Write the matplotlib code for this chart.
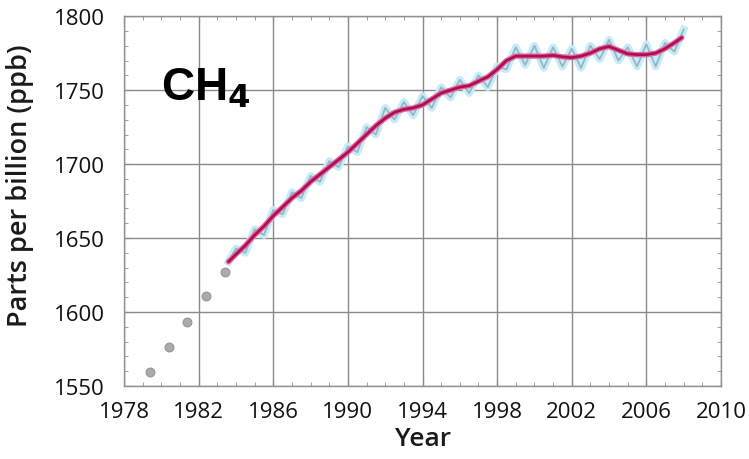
import matplotlib
matplotlib.use("Agg")
import matplotlib.pyplot as plt
from matplotlib.ticker import MultipleLocator

# Early flask measurements (annual means)
early_years = [1979.4, 1980.4, 1981.4, 1982.4, 1983.4]
early_ppb = [1559.7, 1576.6, 1593.4, 1610.6, 1627.2]

# Seasonal record (peaks and troughs)
monthly_years = [1983.6, 1984.0, 1984.5, 1985.0, 1985.5, 1986.0, 1986.5, 1987.0, 1987.5,
                 1988.0, 1988.5, 1989.0, 1989.5, 1990.0, 1990.5, 1991.0, 1991.5, 1992.0,
                 1992.5, 1993.0, 1993.5, 1994.0, 1994.5, 1995.0, 1995.5, 1996.0, 1996.5,
                 1997.0, 1997.5, 1998.0, 1998.5, 1999.0, 1999.5, 2000.0, 2000.5, 2001.0,
                 2001.5, 2002.0, 2002.5, 2003.0, 2003.5, 2004.0, 2004.5, 2005.0, 2005.5,
                 2006.0, 2006.5, 2007.0, 2007.5, 2008.0]
monthly_ppb = [1634, 1643, 1640, 1656, 1652, 1669, 1666, 1681, 1677,
               1692, 1688, 1702, 1698, 1712, 1708, 1725, 1720, 1738,
               1730, 1742, 1733, 1746, 1738, 1752, 1745, 1757, 1748,
               1760, 1752, 1766, 1764, 1779, 1767, 1780, 1765, 1779,
               1766, 1778, 1765, 1780, 1771, 1784, 1770, 1779, 1766,
               1781, 1766, 1782, 1776, 1791]

# Deseasonalised trend
trend_years = [1983.6, 1984.0, 1984.5, 1985.0, 1985.5, 1986.0, 1986.5, 1987.0, 1987.5,
               1988.0, 1988.5, 1989.0, 1989.5, 1990.0, 1990.5, 1991.0, 1991.5, 1992.0,
               1992.5, 1993.0, 1993.5, 1994.0, 1994.5, 1995.0, 1995.5, 1996.0, 1996.5,
               1997.0, 1997.5, 1998.0, 1998.5, 1999.0, 1999.5, 2000.0, 2000.5, 2001.0,
               2001.5, 2002.0, 2002.5, 2003.0, 2003.5, 2004.0, 2004.5, 2005.0, 2005.5,
               2006.0, 2006.5, 2007.0, 2007.5, 2007.9]
trend_ppb = [1634, 1639, 1645, 1652, 1658, 1665, 1671, 1677, 1682,
             1688, 1693, 1698, 1703, 1708, 1714, 1720, 1726, 1731,
             1735, 1737, 1738, 1740, 1744, 1748, 1750, 1752, 1753,
             1756, 1759, 1764, 1770, 1773, 1773, 1773, 1773, 1773.5,
             1772.5, 1772, 1773, 1775, 1778, 1779.5, 1777, 1774.5, 1774,
             1774, 1775, 1778, 1782, 1785.5]

x_ticks = [1978, 1982, 1986, 1990, 1994, 1998, 2002, 2006, 2010]
y_ticks = [1550, 1600, 1650, 1700, 1750, 1800]

fig = plt.figure(figsize=(7.49, 4.60), dpi=100)
ax = fig.add_axes([0.1656, 0.1587, 0.797, 0.804])

ax.plot(monthly_years, monthly_ppb, color="#c6ecf7", lw=5.5, solid_joinstyle="round", zorder=3)
ax.plot(monthly_years, monthly_ppb, color="#96b6c6", lw=1.3, zorder=4)
ax.plot(trend_years, trend_ppb, color="#e8609f", lw=3.8, solid_capstyle="round", zorder=5)
ax.plot(trend_years, trend_ppb, color="#a8104f", lw=1.9, solid_capstyle="round", zorder=6)
ax.scatter(early_years, early_ppb, s=40, color="#ababab", edgecolor="#959595",
           linewidth=0.8, zorder=5)

ax.set_xlim(1978, 2010)
ax.set_ylim(1550, 1800)
ax.set_xticks(x_ticks)
ax.set_yticks(y_ticks)
ax.xaxis.set_minor_locator(MultipleLocator(1))
ax.yaxis.set_minor_locator(MultipleLocator(10))
ax.tick_params(which="both", direction="in", top=True, right=True, color="#8c8c8c")
ax.tick_params(which="major", length=5, width=0.8, labelsize=16)
ax.tick_params(axis="y", which="major", pad=14)
ax.tick_params(axis="x", which="major", pad=11)
ax.tick_params(which="minor", length=3, width=0.6)
for lab in ax.get_xticklabels() + ax.get_yticklabels():
    lab.set_family("Open Sans")
    lab.set_color("#111111")
ax.grid(True, which="major", color="#8a8a8a", lw=1.0)
ax.set_axisbelow(True)
for sp in ax.spines.values():
    sp.set_color("#909090")
    sp.set_linewidth(1.0)

ax.set_xlabel("Year", fontsize=19, fontfamily="Open Sans", fontweight="semibold",
              color="#1a1a1a")
ax.xaxis.set_label_coords(0.50, -0.108)
ax.set_ylabel("Parts per billion (ppb)", fontsize=19.5, fontfamily="Open Sans",
              fontweight="semibold", color="#1a1a1a")
ax.yaxis.set_label_coords(-0.150, 0.545)

ax.text(1980.0, 1744, r"CH$_\mathbf{4}$", fontsize=33, fontweight="bold",
        fontfamily="Liberation Sans", color="#000000", va="baseline", zorder=7)

fig.savefig("out.png", dpi=100, facecolor="white")
